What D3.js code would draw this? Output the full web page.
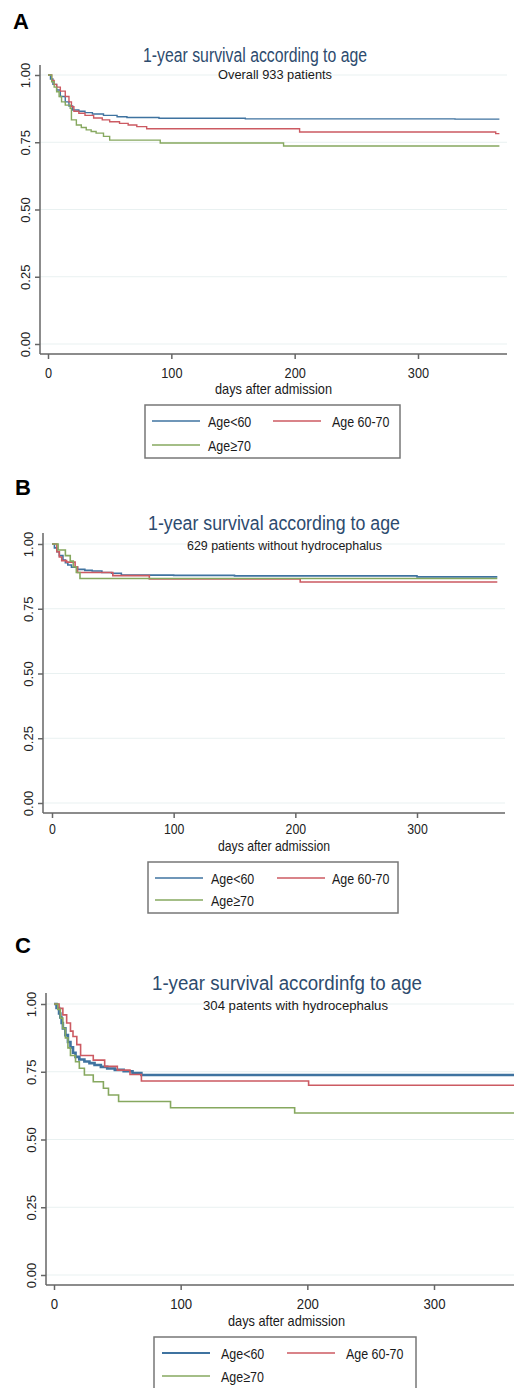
<!DOCTYPE html>
<html>
<head>
<meta charset="utf-8">
<script src="https://cdn.jsdelivr.net/npm/d3@7"></script>
<style>
  body { margin: 0; background: #fff; }
  svg { display: block; font-family: "Liberation Sans", Arial, sans-serif; }
</style>
</head>
<body>
<svg id="chart" width="514" height="1388"></svg>
<script>
// ---- data ----
const groups = ["Age<60", "Age 60-70", "Age≥70"]
const xTicks = [0, 100, 200, 300]
const yTicks = [0, 0.25, 0.5, 0.75, 1]
const letters = ["A", "B", "C"]
const titles = ["1-year survival according to age", "1-year survival according to age", "1-year survival accordinfg to age"]
const subtitles = ["Overall 933 patients", "629 patients without hydrocephalus", "304 patents with hydrocephalus"]

// [day, survival] step points
const overallUnder60 = [[0,1],[2,0.985],[4,0.965],[7,0.944],[10,0.92],[14,0.9],[17,0.885],[20,0.87],[25,0.865],[30,0.86],[36,0.855],[45,0.85],[56,0.845],[64,0.842],[90,0.839],[160,0.837],[330,0.836],[366,0.836]]
const overall60to70 = [[0,1],[3,0.98],[5,0.965],[7,0.955],[10,0.94],[14,0.92],[17,0.9],[19,0.882],[21,0.865],[25,0.858],[30,0.85],[37,0.84],[44,0.833],[50,0.826],[58,0.82],[65,0.814],[72,0.808],[80,0.8],[204,0.788],[363,0.782],[366,0.782]]
const overallOver70 = [[0,1],[3,0.975],[5,0.955],[7,0.938],[9,0.92],[11,0.9],[14,0.888],[18,0.876],[19,0.833],[23,0.814],[27,0.805],[31,0.796],[35,0.79],[39,0.784],[45,0.772],[50,0.758],[91,0.747],[191,0.736],[366,0.736]]

const noHydroUnder60 = [[0,1],[2,0.985],[4,0.97],[6,0.955],[9,0.938],[11,0.928],[13,0.919],[16,0.91],[21,0.902],[27,0.898],[33,0.896],[41,0.89],[49,0.887],[57,0.88],[100,0.879],[150,0.877],[300,0.873],[366,0.873]]
const noHydro60to70 = [[0,1],[4,0.97],[6,0.95],[8,0.936],[12,0.93],[19,0.912],[21,0.89],[50,0.878],[80,0.865],[204,0.853],[366,0.853]]
const noHydroOver70 = [[0,1],[5,0.977],[11,0.955],[15,0.934],[17.5,0.912],[20,0.89],[23,0.867],[366,0.867]]

const hydroUnder60 = [[0,1],[2,0.985],[4,0.965],[5,0.95],[6,0.93],[7,0.91],[9,0.885],[11,0.86],[13,0.84],[15,0.82],[17,0.805],[20,0.795],[24,0.788],[28,0.782],[32,0.775],[37,0.768],[42,0.762],[48,0.757],[55,0.752],[62,0.745],[69,0.738],[370,0.738]]
const hydro60to70 = [[0,1],[4,0.984],[7,0.96],[10,0.93],[13,0.9],[15,0.88],[18,0.85],[21,0.81],[31,0.793],[40,0.77],[50,0.756],[60,0.74],[69,0.716],[201,0.7],[370,0.7]]
const hydroOver70 = [[0,1],[3,0.98],[5,0.948],[7,0.91],[9,0.875],[11,0.838],[13,0.81],[17,0.787],[20,0.763],[24,0.738],[31,0.713],[39,0.689],[43,0.664],[51,0.64],[92,0.617],[190,0.598],[370,0.598]]

const panelSeries = [
  [overallUnder60, overall60to70, overallOver70],
  [noHydroUnder60, noHydro60to70, noHydroOver70],
  [hydroUnder60, hydro60to70, hydroOver70]
]

// ---- layout / style ----
const colors = ["#3f73a0", "#cc5a62", "#86a85f"]
const layout = [
  { lx: 13, ly: 29, tx: 255, ty: 62, tw: 224, sx: 275, sy: 79, sw: 114,
    x0: 48, x300: 418, y1: 75, y0: 344, axX: 40, axTop: 65, axY: 354, axRight: 507,
    xlabY: 378, atY: 394, atX: 273.5, atW: 117, kTick: 0.85, widths: [1.4, 1.4, 1.4],
    leg: { x: 145, y: 405, w: 255, h: 53, r1: 421, r2: 445, l1: 152, t1: 208, l2: 273, t2: 332 } },
  { lx: 15, ly: 495, tx: 274, ty: 530, tw: 252, sx: 284.5, sy: 550, sw: 195,
    x0: 52, x300: 417, y1: 544, y0: 803, axX: 43, axTop: 533, axY: 813, axRight: 505,
    xlabY: 834, atY: 851, atX: 274, atW: 112, kTick: 0.82, widths: [1.6, 1.6, 1.6],
    leg: { x: 148, y: 862, w: 250, h: 51, r1: 878, r2: 900, l1: 155, t1: 211, l2: 277, t2: 332 } },
  { lx: 15, ly: 953, tx: 287, ty: 990, tw: 270, sx: 295.5, sy: 1010, sw: 185,
    x0: 54, x300: 434, y1: 1004, y0: 1275, axX: 46, axTop: 993, axY: 1285, axRight: 530,
    xlabY: 1309, atY: 1326, atX: 286.5, atW: 117, kTick: 0.88, widths: [2.6, 1.6, 1.6],
    leg: { x: 154, y: 1337, w: 262, h: 60, r1: 1353, r2: 1376, l1: 162, t1: 221, l2: 287, t2: 346 } }
]

const svg = d3.select("#chart")

function squeeze(sel, k) {
  sel.each(function () {
    const L = this.getComputedTextLength()
    d3.select(this).attr("textLength", L * k).attr("lengthAdjust", "spacingAndGlyphs")
  })
}

layout.forEach((p, i) => {
  const g = svg.append("g")
  const x = d3.scaleLinear().domain([0, 300]).range([p.x0, p.x300])
  const y = d3.scaleLinear().domain([0, 1]).range([p.y0, p.y1])

  g.append("text").attr("x", p.lx).attr("y", p.ly).text(letters[i])
    .attr("font-size", 22).attr("font-weight", "bold").attr("fill", "#000")

  // grid
  g.selectAll(".grid").data(yTicks).join("line")
    .attr("x1", p.axX).attr("x2", p.axRight)
    .attr("y1", d => y(d)).attr("y2", d => y(d))
    .attr("stroke", "#e9f1f1").attr("stroke-width", 1)

  g.append("text").attr("x", p.tx).attr("y", p.ty).attr("text-anchor", "middle")
    .attr("font-size", 20).attr("fill", "#2d4b6e").text(titles[i])
    .attr("textLength", p.tw).attr("lengthAdjust", "spacingAndGlyphs")
  g.append("text").attr("x", p.sx).attr("y", p.sy).attr("text-anchor", "middle")
    .attr("font-size", 13.5).attr("fill", "#1a1a1a").text(subtitles[i])
    .attr("textLength", p.sw).attr("lengthAdjust", "spacingAndGlyphs")

  // curves
  const line = d3.line().curve(d3.curveStepAfter).x(d => x(d[0])).y(d => y(d[1]))
  panelSeries[i].forEach((s, j) => {
    g.append("path").datum(s).attr("d", line)
      .attr("fill", "none").attr("stroke", colors[j]).attr("stroke-width", p.widths[j])
  })

  // axes
  const yAxis = d3.axisLeft(y).tickValues(yTicks).tickFormat(d3.format(".2f")).tickSize(5).tickSizeOuter(0)
  const ya = g.append("g").attr("transform", `translate(${p.axX},0)`).call(yAxis)
  ya.select(".domain").attr("d", `M0,${p.axTop}V${p.axY}`)
  ya.selectAll(".tick text").attr("x", null).attr("dy", null).attr("y", null)
    .attr("text-anchor", "middle").attr("transform", "translate(-10,0) rotate(-90)")
    .attr("font-size", 13).attr("font-family", null).attr("fill", "#222")

  const xAxis = d3.axisBottom(x).tickValues(xTicks).tickFormat(d3.format("d")).tickSize(5).tickSizeOuter(0)
  const xa = g.append("g").attr("transform", `translate(0,${p.axY})`).call(xAxis)
  xa.select(".domain").attr("d", `M${p.axX},0H${p.axRight}`)
  xa.selectAll(".tick text").attr("dy", null).attr("y", p.xlabY - p.axY)
    .attr("font-size", 15).attr("font-family", null).attr("fill", "#222")
  squeeze(xa.selectAll(".tick text"), p.kTick)

  g.selectAll(".domain, .tick line").attr("stroke", "#666").attr("stroke-width", 1.5)

  g.append("text").attr("x", p.atX).attr("y", p.atY).attr("text-anchor", "middle")
    .attr("font-size", 15).attr("fill", "#1a1a1a").text("days after admission")
    .attr("textLength", p.atW).attr("lengthAdjust", "spacingAndGlyphs")

  // legend
  const L = p.leg
  g.append("rect").attr("x", L.x).attr("y", L.y).attr("width", L.w).attr("height", L.h)
    .attr("fill", "#fff").attr("stroke", "#777").attr("stroke-width", 1.5)
  const spots = [[L.l1, L.t1, L.r1], [L.l2, L.t2, L.r1], [L.l1, L.t1, L.r2]]
  groups.forEach((name, j) => {
    const [lx, tx, ry] = spots[j]
    g.append("line").attr("x1", lx).attr("x2", lx + 48).attr("y1", ry).attr("y2", ry)
      .attr("stroke", colors[j]).attr("stroke-width", Math.min(p.widths[j], 2))
    const t = g.append("text").attr("x", tx).attr("y", ry + 5.5).attr("font-size", 15)
      .attr("fill", "#1a1a1a").text(name)
    squeeze(t, 0.83)
  })
})
</script>
</body>
</html>
